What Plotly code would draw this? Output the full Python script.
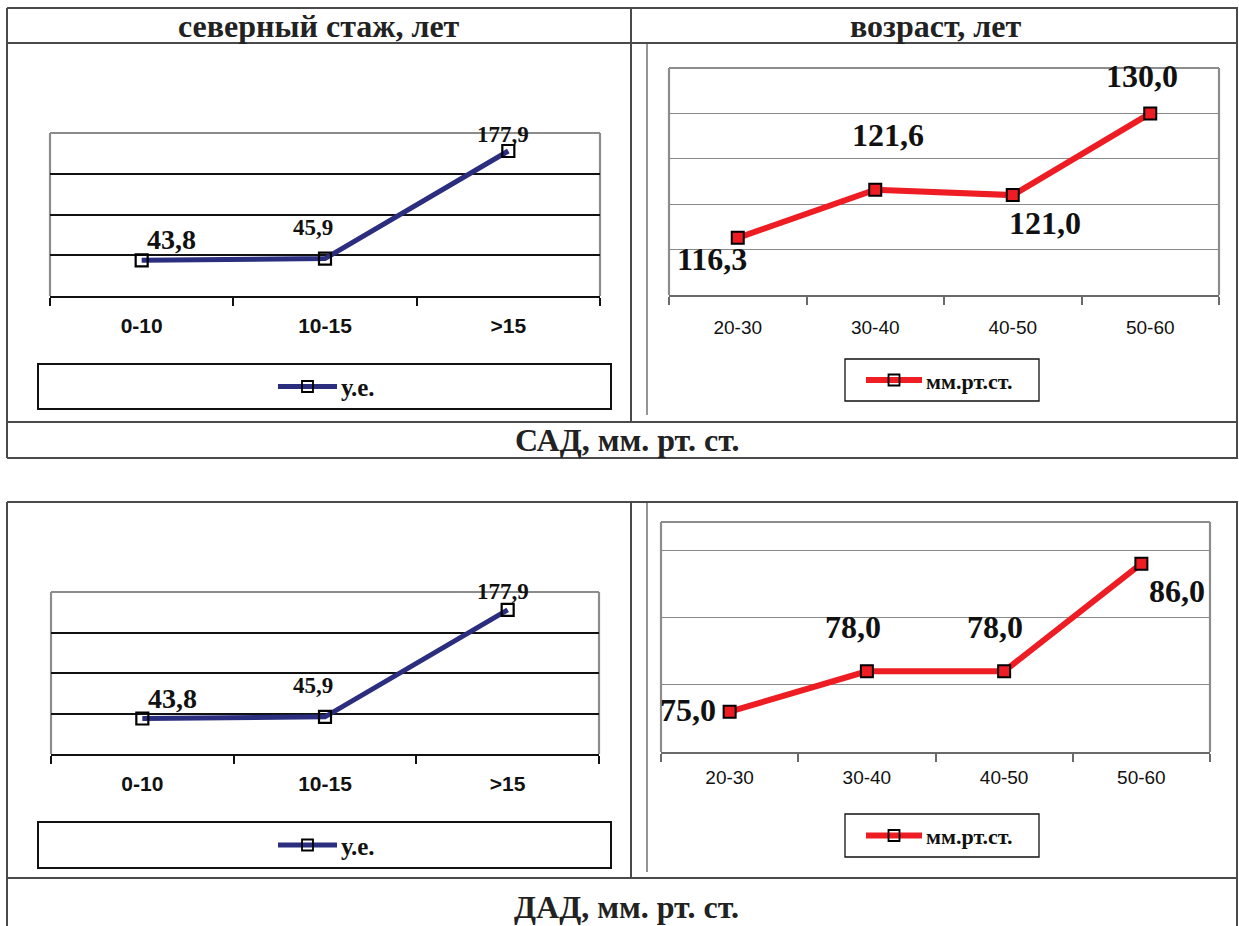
import plotly.graph_objects as go

W, H = 1239, 926

# ---- data ----
stazh_cats = ["0-10", "10-15", ">15"]
stazh_sad = [43.8, 45.9, 177.9]
stazh_dad = [43.8, 45.9, 177.9]

age_cats = ["20-30", "30-40", "40-50", "50-60"]
age_sad = [116.3, 121.6, 121.0, 130.0]
age_dad = [75.0, 78.0, 78.0, 86.0]

unit_left = "у.е."
unit_right = "мм.рт.ст."
col_titles = ["северный стаж, лет", "возраст, лет"]
row_titles = ["САД, мм. рт. ст.", "ДАД, мм. рт. ст."]

NAVY = "#2B2D7E"
RED = "#EE1D24"
SERIF = "Liberation Serif, Times New Roman, DejaVu Serif, serif"
SANS = "Liberation Sans, Arial, sans-serif"


def px(x):
    return x / W


def py(y):
    return 1 - y / H


def fmt(v):
    return f"{v:.1f}".replace(".", ",")


# panel geometry (pixels) and styling
panels = [
    dict(cats=stazh_cats, vals=stazh_sad, color=NAVY, lw=5, box=(50, 600, 133, 296),
         yr=(0, 200), tick0=0, dtick=50, grid="#111111", gw=1.6, axis="#111111", aw=2.2,
         tickfont=dict(family=SANS, size=21, color="#111111", weight="bold"), stand=10,
         shifts=[(30, 21), (-12, 31), (-5, 17)], lsize=[28, 23, 23], filled=False,
         legend=dict(box=(38, 611, 364, 409), line=(278, 337), text=unit_left)),
    dict(cats=age_cats, vals=age_sad, color=RED, lw=6, box=(669, 1219, 68, 295),
         yr=(110, 135), tick0=110, dtick=5, grid="#8a8a8a", gw=1.2, axis="#6a6a6a", aw=1.5,
         tickfont=dict(family=SANS, size=19, color="#111111"), stand=14,
         shifts=[(-26, -21), (13, 55), (32, -28), (-8, 37)], lsize=[32, 32, 32, 32],
         filled=True,
         legend=dict(box=(845, 1039, 359, 401), line=(866, 922), text=unit_right),
         frame=(647, 43, 415)),
    dict(cats=stazh_cats, vals=stazh_dad, color=NAVY, lw=5, box=(51, 599, 592, 754),
         yr=(0, 200), tick0=0, dtick=50, grid="#111111", gw=1.6, axis="#111111", aw=2.2,
         tickfont=dict(family=SANS, size=21, color="#111111", weight="bold"), stand=10,
         shifts=[(30, 20), (-12, 31), (-5, 18)], lsize=[28, 23, 23], filled=False,
         legend=dict(box=(38, 611, 822, 868), line=(278, 337), text=unit_left)),
    dict(cats=age_cats, vals=age_dad, color=RED, lw=6, box=(661, 1210, 522, 752),
         yr=(72, 89.1), tick0=72, dtick=5, grid="#8a8a8a", gw=1.2, axis="#6a6a6a", aw=1.5,
         tickfont=dict(family=SANS, size=19, color="#111111"), stand=7,
         shifts=[(-42, 2), (-14, 44), (-9, 44), (36, -27)], lsize=[32, 32, 32, 32],
         filled=True,
         legend=dict(box=(845, 1039, 814, 857), line=(866, 922), text=unit_right),
         frame=(647, 502, 872)),
]

fig = go.Figure()
shapes = []
annotations = []
layout = {}

for i, p in enumerate(panels, start=1):
    xa = "x" if i == 1 else f"x{i}"
    ya = "y" if i == 1 else f"y{i}"
    x0, x1, y0, y1 = p["box"]

    # series line with square markers (open on the left-hand charts)
    if p["filled"]:
        mk = dict(symbol="square", size=12, color=p["color"],
                  line=dict(color="#000000", width=2))
    else:
        mk = dict(symbol="square-open", size=12, color="#000000",
                  line=dict(color="#000000", width=2.2))
    fig.add_trace(go.Scatter(
        x=p["cats"], y=p["vals"], xaxis=xa, yaxis=ya, mode="lines+markers",
        line=dict(color=p["color"], width=p["lw"]), marker=mk,
        showlegend=False, cliponaxis=False,
    ))

    layout[("xaxis" if i == 1 else f"xaxis{i}")] = dict(
        domain=[px(x0), px(x1)], anchor=ya, type="category",
        range=[-0.5, len(p["cats"]) - 0.5], tickson="boundaries",
        ticks="outside", ticklen=8, tickwidth=p["aw"], tickcolor=p["axis"],
        showline=True, linecolor=p["axis"], linewidth=p["aw"],
        showgrid=False, zeroline=False, tickfont=p["tickfont"],
        ticklabelstandoff=p["stand"], fixedrange=True,
    )
    layout[("yaxis" if i == 1 else f"yaxis{i}")] = dict(
        domain=[py(y1), py(y0)], anchor=xa, range=list(p["yr"]),
        tick0=p["tick0"], dtick=p["dtick"], showticklabels=False, ticks="",
        showgrid=True, gridcolor=p["grid"], gridwidth=p["gw"],
        zeroline=False, showline=False, fixedrange=True,
    )

    # plot-area frame (left, top, right) in grey
    for (ax0, ay0, ax1, ay1) in [(x0, y0, x0, y1), (x0, y0, x1, y0), (x1, y0, x1, y1)]:
        shapes.append(dict(type="line", xref="paper", yref="paper",
                           x0=px(ax0), y0=py(ay0), x1=px(ax1), y1=py(ay1),
                           line=dict(color="#8c8c8c", width=2.2), layer="below"))

    # data labels
    for c, v, (dx, dy), fs in zip(p["cats"], p["vals"], p["shifts"], p["lsize"]):
        annotations.append(dict(
            x=c, y=v, xref=xa, yref=ya, text=fmt(v), showarrow=False,
            xshift=dx, yshift=dy,
            font=dict(family=SERIF, size=fs, color="#111111", weight="bold"),
        ))

    # legend drawn as a framed box with line sample, marker and label
    lg = p["legend"]
    bx0, bx1, by0, by1 = lg["box"]
    shapes.append(dict(type="rect", xref="paper", yref="paper",
                       x0=px(bx0), x1=px(bx1), y0=py(by1), y1=py(by0),
                       line=dict(color="#111111", width=2 if i in (1, 3) else 1.3),
                       fillcolor="rgba(0,0,0,0)"))
    ly = (by0 + by1) / 2
    lx0, lx1 = lg["line"]
    shapes.append(dict(type="line", xref="paper", yref="paper",
                       x0=px(lx0), x1=px(lx1), y0=py(ly), y1=py(ly),
                       line=dict(color=p["color"], width=p["lw"])))
    mx = (lx0 + lx1) / 2
    shapes.append(dict(type="rect", xref="paper", yref="paper",
                       x0=px(mx - 5.5), x1=px(mx + 5.5), y0=py(ly + 5.5), y1=py(ly - 5.5),
                       line=dict(color="#000000", width=1.8),
                       fillcolor="rgba(0,0,0,0)"))
    annotations.append(dict(
        x=px(lx1 + 2), y=py(ly + 1), xref="paper", yref="paper", xanchor="left",
        yanchor="middle", text=lg["text"], showarrow=False,
        font=dict(family=SERIF, size=25 if i in (1, 3) else 22, color="#111111",
                  weight="bold"),
    ))

    # outer chart-area border of the right-hand charts
    if "frame" in p:
        fx, fy0, fy1 = p["frame"]
        shapes.append(dict(type="line", xref="paper", yref="paper",
                           x0=px(fx), x1=px(fx), y0=py(fy0), y1=py(fy1),
                           line=dict(color="#8a8a8a", width=1.8)))

# ---- table grid ----
TL = dict(color="#4a4a4a", width=2)


def hline(y, xa=7, xb=1238):
    shapes.append(dict(type="line", xref="paper", yref="paper",
                       x0=px(xa), x1=px(xb), y0=py(y), y1=py(y), line=TL))


def vline(x, ya, yb):
    shapes.append(dict(type="line", xref="paper", yref="paper",
                       x0=px(x), x1=px(x), y0=py(ya), y1=py(yb), line=TL))


# upper table
for y in (8, 43, 422, 458):
    hline(y)
vline(7, 8, 458)
vline(1237, 8, 458)
vline(631, 8, 422)
# lower table
for y in (502, 878):
    hline(y)
vline(7, 502, 926)
vline(1237, 502, 926)
vline(631, 502, 878)

# column and row headings
for txt, cx in zip(col_titles, (319, 935)):
    annotations.append(dict(x=px(cx), y=py(26), xref="paper", yref="paper",
                            text=txt, showarrow=False, xanchor="center", yanchor="middle",
                            font=dict(family=SERIF, size=32, color="#222222", weight="bold")))
for txt, cy in zip(row_titles, (440, 907)):
    annotations.append(dict(x=px(627), y=py(cy), xref="paper", yref="paper",
                            text=txt, showarrow=False, xanchor="center", yanchor="middle",
                            font=dict(family=SERIF, size=32, color="#222222", weight="bold")))

fig.update_layout(
    width=W, height=H, margin=dict(l=0, r=0, t=0, b=0),
    paper_bgcolor="white", plot_bgcolor="white",
    shapes=shapes, annotations=annotations, showlegend=False,
    **layout,
)

fig.write_html("out.html", config=dict(displayModeBar=False))
